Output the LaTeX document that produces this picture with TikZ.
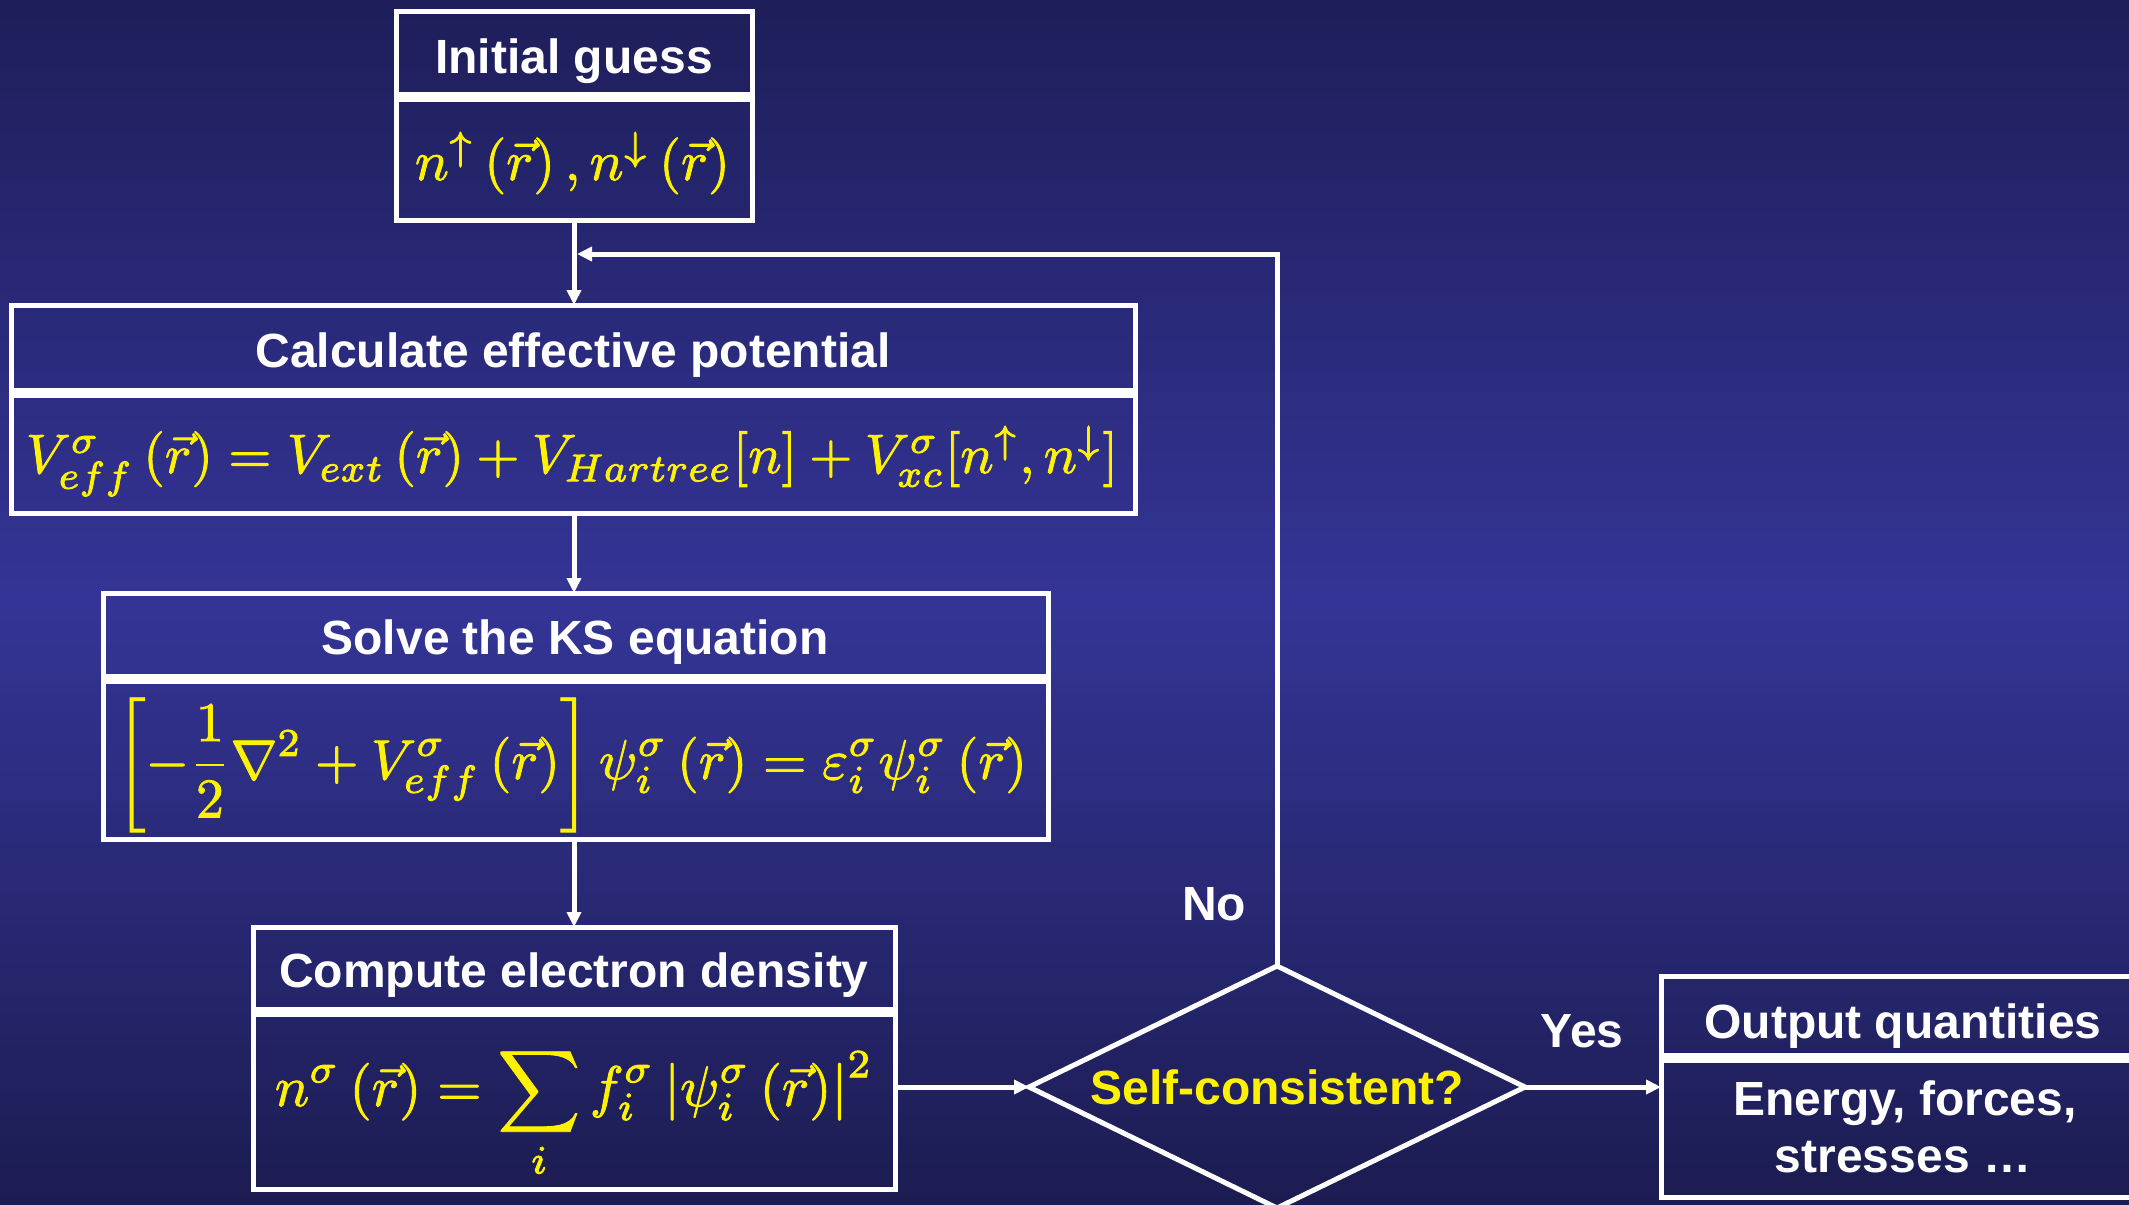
\documentclass[tikz,border=0pt]{standalone}
\usepackage{fontspec}
\setmainfont{Liberation Sans}
\usepackage{graphicx}
\usetikzlibrary{arrows.meta,shapes.geometric}
\definecolor{bgtop}{RGB}{30,30,90}
\definecolor{bgmid}{RGB}{52,52,150}
\definecolor{bgbot}{RGB}{28,28,82}
\newcommand\heavyink[1]{\special{pdf:literal direct 2 Tr 0.15 w}#1\special{pdf:literal direct 0 Tr}}
\begin{document}
\begin{tikzpicture}[x=0.5pt,y=-0.5pt,
  frame/.style={draw=white, line width=2.5pt, inner sep=0pt, outer sep=0pt},
  ttl/.style={text=white, font=\bfseries\fontsize{24}{29}\selectfont, anchor=base, inner sep=0pt},
  mth/.style={text=yellow, anchor=base, inner sep=0pt},
  arr/.style={draw=white, line width=2.5pt, -{Triangle[width=7pt,length=7.5pt]}}]
\useasboundingbox (0,0) rectangle (2129,1204);
% background gradient in bands
\foreach \i in {0,...,59}{
  \pgfmathtruncatemacro\p{round(\i*100/59)}
  \fill[bgmid!\p!bgtop] (0,{\i*10.04}) rectangle (2129,{\i*10.04+11});
}
\foreach \i in {60,...,119}{
  \pgfmathtruncatemacro\p{round((119-\i)*100/59)}
  \fill[bgmid!\p!bgbot] (0,{\i*10.04}) rectangle (2129,{\i*10.04+11});
}

% frames
\node[frame, minimum width=178pt, minimum height=41.5pt] (b1t) at (574,53.5) {};
\node[frame, minimum width=178pt, minimum height=60pt] (b1b) at (574,160) {};
\node[frame, minimum width=562pt, minimum height=42.5pt] (b2t) at (573,347.5) {};
\node[frame, minimum width=562pt, minimum height=59pt] (b2b) at (573,454) {};
\node[frame, minimum width=472.5pt, minimum height=41.5pt] (b3t) at (575.5,634.5) {};
\node[frame, minimum width=472.5pt, minimum height=79pt] (b3b) at (575.5,760) {};
\node[frame, minimum width=321pt, minimum height=41pt] (b4t) at (574,968) {};
\node[frame, minimum width=321pt, minimum height=87.5pt] (b4b) at (574,1101.5) {};
\node[frame, minimum width=242pt, minimum height=39.5pt] (ot) at (1903,1015.5) {};
\node[frame, minimum width=242pt, minimum height=68.5pt] (ob) at (1903,1128.5) {};
\node[frame, diamond, aspect=2.05, minimum width=248pt, minimum height=121pt,
      text=yellow, font=\bfseries\fontsize{24}{29}\selectfont] (dia) at (1277,1087) {Self-consistent?};

% titles
\node[ttl] (t1) at (574,74) {Initial guess};
\node[ttl] (t2) at (573,367) {Calculate effective potential};
\node[ttl] (t3) at (575,654) {Solve the KS equation};
\node[ttl] (t4) at (574,987) {Compute electron density};
\node[ttl] (t5) at (1903,1038) {Output quantities};
\node[ttl] (t6) at (1905,1115) {Energy, forces,};
\node[ttl] (t7) at (1903,1172) {stresses …};
\node[ttl] (no) at (1214,920) {No};
\node[ttl] (yes) at (1582,1047) {Yes};

% formulas
\node[mth] (f1) at (572.5,180) {\resizebox{157.5pt}{!}{\heavyink{$n^{\uparrow}\left(\vec{r}\right),n^{\downarrow}\left(\vec{r}\right)$}}};
\node[mth] (f2) at (572,473) {\resizebox{546pt}{!}{\heavyink{$V^{\sigma}_{eff}\left(\vec{r}\right)=V_{ext}\left(\vec{r}\right)+V_{Hartree}[n]+V^{\sigma}_{xc}[n^{\uparrow},n^{\downarrow}]$}}};
\node[mth] (f3) at (571.5,779) {\resizebox{455.5pt}{!}{\heavyink{$\displaystyle\left[-\frac{1}{2}\nabla^{2}+V^{\sigma}_{eff}\left(\vec{r}\right)\right]\psi^{\sigma}_{i}\left(\vec{r}\right)=\varepsilon^{\sigma}_{i}\psi^{\sigma}_{i}\left(\vec{r}\right)$}}};
\node[mth] (f4) at (574,1106) {\resizebox{299pt}{!}{\heavyink{$\displaystyle n^{\sigma}\left(\vec{r}\right)=\sum_{i}f^{\sigma}_{i}\left|\psi^{\sigma}_{i}\left(\vec{r}\right)\right|^{2}$}}};

% connectors
\coordinate (join) at (577,254);
\draw[arr] (b1b.south) -- (b1b.south |- b2t.north);
\draw[arr] (b1b.south |- b2b.south) -- (b1b.south |- b3t.north);
\draw[arr] (b1b.south |- b3b.south) -- (b1b.south |- b4t.north);
\draw[arr] (dia.west -| b4b.east) -- (dia.west);
\draw[arr] (dia.east) -- (dia.east -| ob.west);
\draw[arr] (dia.north) |- (join);
\end{tikzpicture}
\end{document}
